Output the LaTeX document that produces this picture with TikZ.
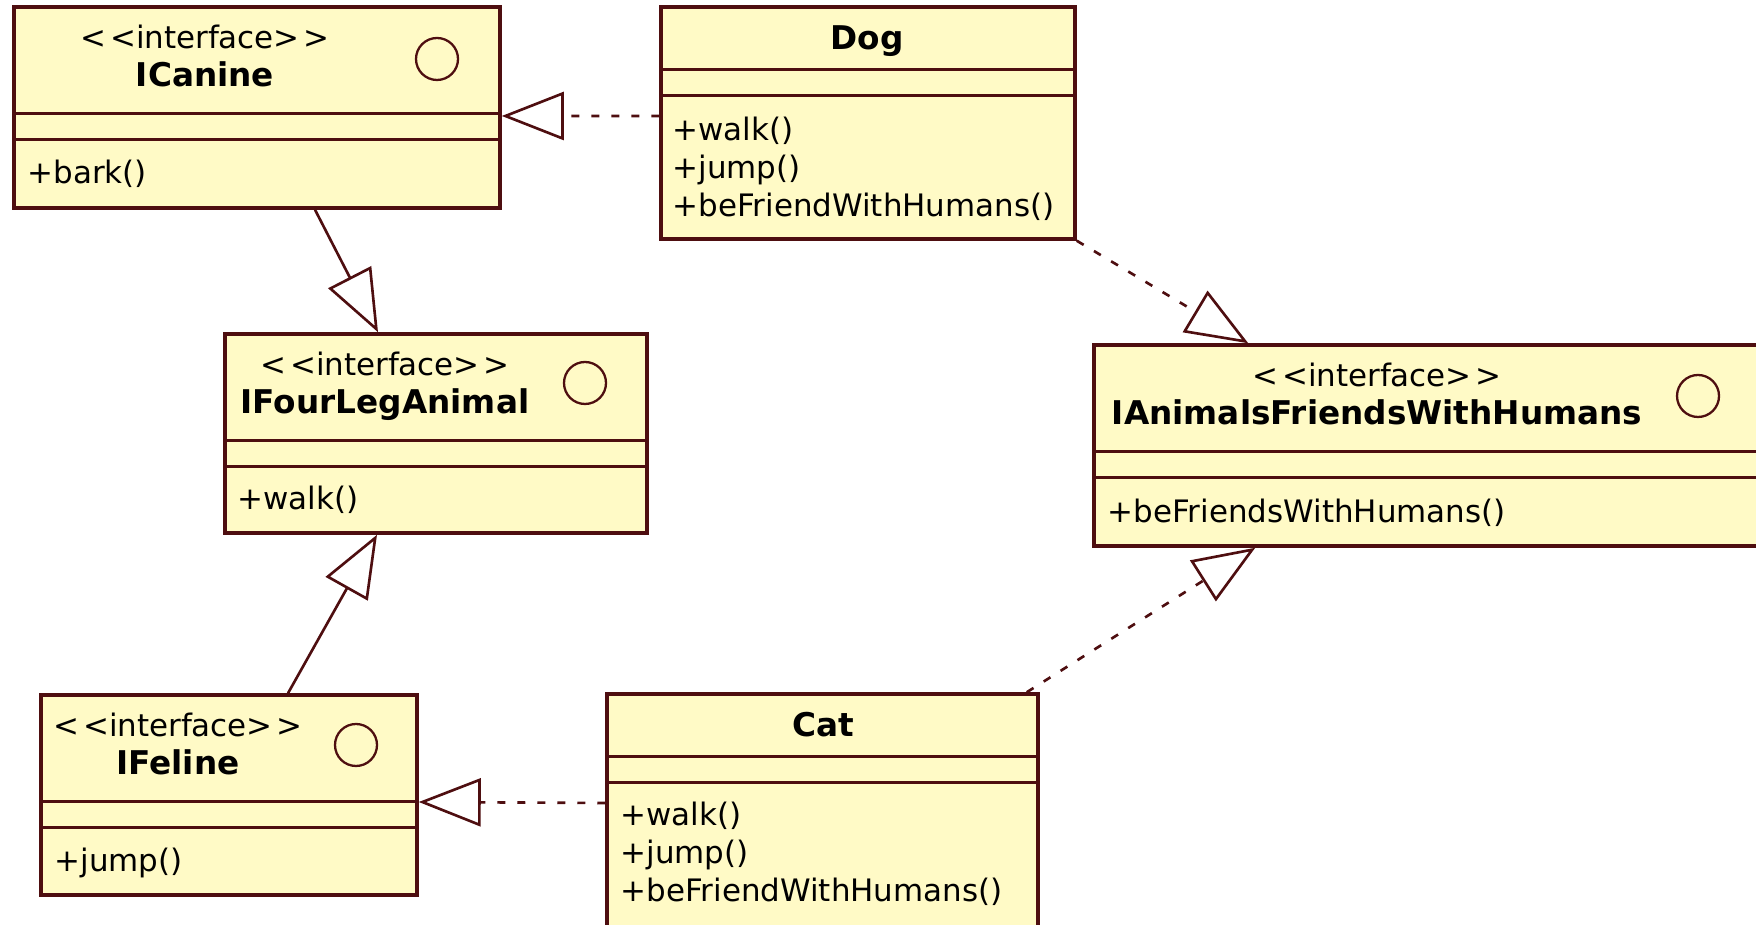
\documentclass[tikz,border=0pt]{standalone}
\usepackage{fontspec}
\setmainfont{DejaVu Sans}
\usetikzlibrary{arrows.meta}

\definecolor{umlline}{RGB}{78,14,16}
\definecolor{umlfill}{RGB}{255,250,198}

\tikzset{
	classbox/.style={draw=umlline, fill=umlfill, line width=1pt, inner sep=0pt},
	divider/.style={draw=umlline, line width=0.9pt},
	stereo/.style={anchor=base, inner sep=0pt, font=\fontsize{8.8pt}{10.8pt}\selectfont},
	cname/.style={anchor=base, inner sep=0pt, font=\fontsize{9.3pt}{11pt}\selectfont\bfseries},
	op/.style={anchor=base west, inner sep=0pt, font=\fontsize{8.8pt}{10.8pt}\selectfont},
	lolly/.style={circle, draw=umlline, line width=0.65pt, minimum size=0.42cm, inner sep=0pt},
	gen/.style={draw=umlline, line width=0.75pt, -{Triangle[open, length=0.62cm, width=0.48cm]}},
	realize/.style={gen, dash pattern=on 0.08cm off 0.12cm},
}

\newcommand{\ifc}{<\kern1pt<interface>\kern1pt>}

\begin{document}
\begin{tikzpicture}
	
	\useasboundingbox (0, 0) rectangle (17.56, -9.25);
	\clip (0, 0) rectangle (17.56, -9.25);
	
	\node[classbox, minimum width=4.86cm, minimum height=2.01cm] at (2.57, -1.075) (icanine) {};
	\node[classbox, minimum width=4.14cm, minimum height=2.32cm] at (8.68, -1.23) (dog) {};
	\node[classbox, minimum width=4.22cm, minimum height=1.99cm] at (4.36, -4.335) (ifourleg) {};
	\node[classbox, minimum width=6.68cm, minimum height=2.01cm] at (14.28, -4.455) (ianimals) {};
	\node[classbox, minimum width=3.76cm, minimum height=2.00cm] at (2.29, -7.95) (ifeline) {};
	\node[classbox, minimum width=4.31cm, minimum height=2.66cm] at (8.225, -8.27) (cat) {};
	
	\draw[divider] ([yshift=-1.08cm]icanine.north west) -- ([yshift=-1.08cm]icanine.north east);
	\draw[divider] ([yshift=-1.34cm]icanine.north west) -- ([yshift=-1.34cm]icanine.north east);
	\draw[divider] ([yshift=-1.08cm]ifourleg.north west) -- ([yshift=-1.08cm]ifourleg.north east);
	\draw[divider] ([yshift=-1.34cm]ifourleg.north west) -- ([yshift=-1.34cm]ifourleg.north east);
	\draw[divider] ([yshift=-1.08cm]ianimals.north west) -- ([yshift=-1.08cm]ianimals.north east);
	\draw[divider] ([yshift=-1.34cm]ianimals.north west) -- ([yshift=-1.34cm]ianimals.north east);
	\draw[divider] ([yshift=-1.08cm]ifeline.north west) -- ([yshift=-1.08cm]ifeline.north east);
	\draw[divider] ([yshift=-1.34cm]ifeline.north west) -- ([yshift=-1.34cm]ifeline.north east);
	\draw[divider] ([yshift=-0.64cm]dog.north west) -- ([yshift=-0.64cm]dog.north east);
	\draw[divider] ([yshift=-0.905cm]dog.north west) -- ([yshift=-0.905cm]dog.north east);
	\draw[divider] ([yshift=-0.64cm]cat.north west) -- ([yshift=-0.64cm]cat.north east);
	\draw[divider] ([yshift=-0.905cm]cat.north west) -- ([yshift=-0.905cm]cat.north east);
	
	\node[stereo] at (2.05, -0.49) (icanine-st) {\ifc};
	\node[cname] at (2.05, -0.87) (icanine-nm) {ICanine};
	\node[lolly] at (4.37, -0.59) (icanine-ic) {};
	\node[op] at (0.27, -1.835) (icanine-op) {+bark()};
	
	\node[cname] at (8.67, -0.50) (dog-nm) {Dog};
	\node[op] at (6.72, -1.41) (dog-op1) {+walk()};
	\node[op] at (6.72, -1.79) (dog-op2) {+jump()};
	\node[op] at (6.72, -2.165) (dog-op3) {+beFriendWithHumans()};
	
	\node[stereo] at (3.85, -3.76) (ifourleg-st) {\ifc};
	\node[cname] at (3.85, -4.14) (ifourleg-nm) {IFourLegAnimal};
	\node[lolly] at (5.85, -3.83) (ifourleg-ic) {};
	\node[op] at (2.37, -5.10) (ifourleg-op) {+walk()};
	
	\node[stereo] at (13.77, -3.87) (ianimals-st) {\ifc};
	\node[cname] at (13.77, -4.25) (ianimals-nm) {IAnimalsFriendsWithHumans};
	\node[lolly] at (16.98, -3.96) (ianimals-ic) {};
	\node[op] at (11.07, -5.23) (ianimals-op) {+beFriendsWithHumans()};
	
	\node[stereo] at (1.78, -7.37) (ifeline-st) {\ifc};
	\node[cname] at (1.78, -7.75) (ifeline-nm) {IFeline};
	\node[lolly] at (3.56, -7.45) (ifeline-ic) {};
	\node[op] at (0.54, -8.71) (ifeline-op) {+jump()};
	
	\node[cname] at (8.23, -7.37) (cat-nm) {Cat};
	\node[op] at (6.20, -8.26) (cat-op1) {+walk()};
	\node[op] at (6.20, -8.64) (cat-op2) {+jump()};
	\node[op] at (6.20, -9.02) (cat-op3) {+beFriendWithHumans()};
	
	\draw[realize] ([yshift=0.07cm]dog.west) to ([yshift=-0.085cm]icanine.east);
	\draw[gen] ([xshift=0.58cm]icanine.south) to ([xshift=-0.58cm]ifourleg.north);
	\draw[gen] ([xshift=0.59cm]ifeline.north) to ([xshift=-0.59cm]ifourleg.south);
	\draw[realize] (dog.south east) to ([xshift=1.56cm]ianimals.north west);
	\draw[realize] ([xshift=-0.13cm]cat.north east) to ([xshift=1.63cm]ianimals.south west);
	\draw[realize] ([yshift=0.24cm]cat.west) to ([yshift=-0.07cm]ifeline.east);
	
\end{tikzpicture}
\end{document}
